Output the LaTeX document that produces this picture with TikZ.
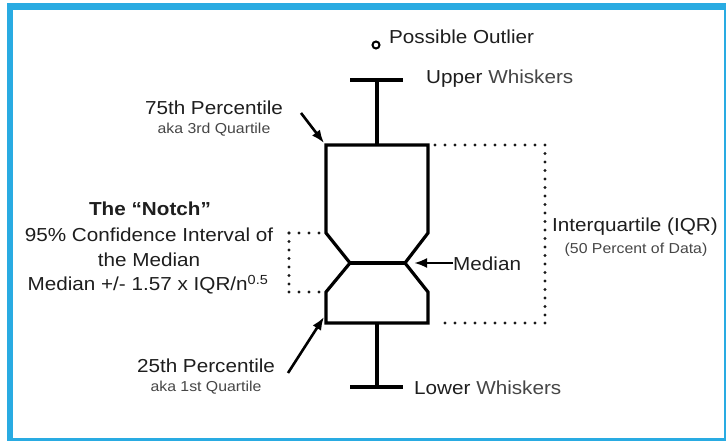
\documentclass[tikz,border=0pt]{standalone}
\usepackage{fontspec}
\setmainfont{Liberation Sans}[FakeStretch=1.1]
\usetikzlibrary{arrows.meta}
\definecolor{frameblue}{RGB}{41,171,226}
\definecolor{txtdark}{RGB}{30,30,30}
\definecolor{txtgray}{RGB}{70,70,70}
\tikzset{
  boxline/.style={line width=3.2pt, line join=miter, draw=black},
  dotline/.style={line width=3.4pt, dash pattern=on 0pt off 10pt, line cap=round, draw=black!90},
  dotlinev/.style={line width=3.4pt, dash pattern=on 0pt off 8.5pt, line cap=round, draw=black!90},
  pointer/.style={line width=2.6pt, -{Latex[length=13pt,width=10pt]}},
  bigtxt/.style={font=\fontsize{18.8}{22}\selectfont, text=txtdark, inner sep=0pt},
  smalltxt/.style={font=\fontsize{14.4}{17}\selectfont, text=txtgray, inner sep=0pt},
}
\begin{document}
\begin{tikzpicture}[x=1pt,y=-1pt]
\useasboundingbox (0,0) rectangle (726,441);
\clip (0,0) rectangle (726,441);
\fill[white] (0,0) rectangle (726,441);
% frame
\draw[frameblue, line width=6.5pt] (10,6.5) rectangle (727.5,441.5);

% box coordinates
\coordinate (TL) at (326,145);
\coordinate (TR) at (428,145);
\coordinate (RN1) at (428,233);
\coordinate (RM) at (405,263);
\coordinate (RN2) at (428,292);
\coordinate (BR) at (428,323);
\coordinate (BL) at (326,323);
\coordinate (LN2) at (326,292);
\coordinate (LM) at (350,263);
\coordinate (LN1) at (326,233);
\coordinate (UT) at (377,145);
\coordinate (UW) at (377,80);
\coordinate (UWl) at (350,80);
\coordinate (UWr) at (403,80);
\coordinate (LB) at (377,323);
\coordinate (LW) at (377,387);
\coordinate (LWl) at (350,387);
\coordinate (LWr) at (403,387);

% box
\draw[boxline] (TL) -- (TR) -- (RN1) -- (RM) -- (RN2) -- (BR) -- (BL) -- (LN2) -- (LM) -- (LN1) -- cycle;
\draw[boxline] (LM) -- (RM);
% whiskers
\draw[boxline] (UT) -- (UW);
\draw[boxline] (UWl) -- (UWr);
\draw[boxline] (LB) -- (LW);
\draw[boxline] (LWl) -- (LWr);

% outlier
\node[circle, draw=black, line width=2pt, minimum size=7pt, inner sep=0pt] (out) at (376,45) {};
\node[bigtxt, anchor=west] (outtxt) at (389,37) {Possible Outlier};

\node[bigtxt, anchor=west] (upw) at (426,79) {Upper \textcolor{txtgray}{Whiskers}};
\node[bigtxt, anchor=west] (low) at (414,388) {Lower \textcolor{txtgray}{Whiskers}};

% IQR bracket
\coordinate (IQ1) at (545,145);
\coordinate (IQ2) at (545,323);
\draw[dotline] ([xshift=7pt]TR) -- (IQ1);
\draw[dotlinev] (IQ1) -- (IQ2);
\draw[dotline] (IQ2) -- ([xshift=7pt]BR);
\node[bigtxt, anchor=west] (iqr) at (552,227) {Interquartile (IQR)};
\node[smalltxt] (iqr2) at (636,250) {(50 Percent of Data)};

% median pointer
\node[bigtxt, anchor=west] (med) at (453,264) {Median};
\coordinate (medtip) at (414,263);
\draw[pointer] (med.west |- medtip) -- (medtip);

% notch bracket
\coordinate (NB1) at (289,233);
\coordinate (NB2) at (289,292);
\draw[dotline] ([xshift=-7pt]LN1) -- (NB1);
\draw[dotlinev] (NB1) -- (NB2);
\draw[dotline] (NB2) -- ([xshift=-7pt]LN2);

% 75th
\node[bigtxt] (p75) at (214,108) {75th Percentile};
\node[smalltxt] (q3) at (214,130) {aka 3rd Quartile};
\coordinate (a75s) at (301,113);
\draw[pointer] (a75s) -- ([xshift=-2pt,yshift=2pt]TL);

% notch text
\node[bigtxt, font=\fontsize{18.8}{22}\selectfont\bfseries] (n1) at (150,209) {The “Notch”};
\node[bigtxt] (n2) at (149,235) {95\% Confidence Interval of};
\node[bigtxt] (n3) at (149,260) {the Median};
\node[bigtxt] (n4) at (148,285) {Median +/- 1.57 x IQR/n\textsuperscript{0.5}};

% 25th
\node[bigtxt] (p25) at (206,366) {25th Percentile};
\node[smalltxt] (q1) at (206,388) {aka 1st Quartile};
\coordinate (a25s) at (288,373);
\draw[pointer] (a25s) -- ([xshift=-2pt,yshift=6pt]BL);
\end{tikzpicture}
\end{document}
